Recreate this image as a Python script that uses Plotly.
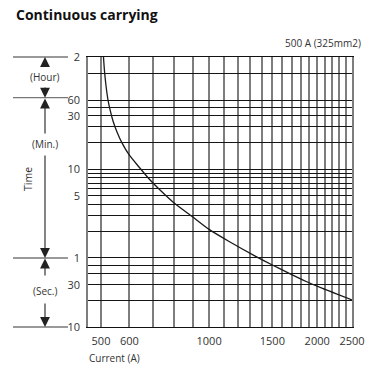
import math
import plotly.graph_objects as go

# ---- data ----
current_a = [508, 511, 516, 523, 530, 540, 554, 572, 599, 638, 681, 735, 799, 897,
             1000, 1137, 1344, 1500, 1671, 1864, 2070, 2500]
time_s = [11100, 7900, 5350, 3620, 2800, 2100, 1580, 1190, 870, 637, 466, 341, 250, 176,
          126, 92, 63, 50, 40.3, 32.6, 27.2, 20.2]

x_grid = list(range(500, 2501, 100))
x_labels = {500: "500", 600: "600", 1000: "1000", 1500: "1500", 2000: "2000", 2500: "2500"}

# time grid in seconds: 10..60 s, 1..10 min, 10..60 min, 2 h, top
y_grid = [10, 20, 30, 40, 50, 60, 120, 180, 240, 300, 360, 420, 480, 540, 600,
          1200, 1800, 2400, 3000, 3600, 7200, 11000]
y_labels = {10: "10", 30: "30", 60: "1", 300: "5", 600: "10", 2400: "30", 3600: "60", 11000: "2"}

x_min, x_max = 460, 2500
y_min, y_max = 10, 11070

W, H = 374, 377
ML, MR, MT, MB = 88, 22, 57, 50
PW, PH = W - ML - MR, H - MT - MB

def px_x(px):
    return (px - ML) / PW

def py_y(py):
    return (H - MB - py) / PH

fig = go.Figure()
fig.add_trace(go.Scatter(x=current_a, y=time_s, mode="lines",
                         line=dict(color="#1a1a1a", width=1.3, shape="spline", smoothing=0.6),
                         hoverinfo="skip", showlegend=False))

font = "Open Sans, DejaVu Sans, sans-serif"
txt = "#333333"

fig.update_xaxes(type="log", range=[math.log10(x_min), math.log10(x_max)],
                 tickvals=x_grid, ticktext=[x_labels.get(v, "") for v in x_grid],
                 showgrid=True, gridcolor="#7d7d7d", gridwidth=1.5,
                 showline=True, mirror=True, linecolor="#111111", linewidth=1.2,
                 ticks="", tickfont=dict(family=font, size=11, color=txt),
                 ticklabelstandoff=4, zeroline=False, automargin=False, tickangle=0)
fig.update_yaxes(type="log", range=[math.log10(y_min), math.log10(y_max)],
                 tickvals=y_grid, ticktext=[y_labels.get(v, "") for v in y_grid],
                 showgrid=True, gridcolor="#151515", gridwidth=1,
                 showline=True, mirror=True, linecolor="#7d7d7d", linewidth=1.5,
                 ticks="", tickfont=dict(family=font, size=11, color=txt),
                 ticklabelstandoff=4, zeroline=False, automargin=False)

shapes = []
for py in [57, 97.7, 258, 327]:
    shapes.append(dict(type="line", xref="paper", yref="paper",
                       x0=px_x(13), x1=px_x(68), y0=py_y(py), y1=py_y(py),
                       line=dict(color="#777777", width=1.3)))

ann = []
ann.append(dict(text="<b>Continuous carrying</b>", xref="paper", yref="paper",
                x=px_x(14), y=py_y(14), xanchor="left", yanchor="middle", showarrow=False,
                font=dict(family=font, size=14, color="#111111")))
ann.append(dict(text="500 A (325mm2)", xref="paper", yref="paper",
                x=px_x(363), y=py_y(43), xanchor="right", yanchor="middle", showarrow=False,
                font=dict(family=font, size=10, color=txt)))
ann.append(dict(text="Current (A)", xref="paper", yref="paper",
                x=px_x(87), y=py_y(358), xanchor="left", yanchor="middle", showarrow=False,
                font=dict(family=font, size=10, color=txt)))
ann.append(dict(text="Time", xref="paper", yref="paper", textangle=-90,
                x=px_x(28), y=py_y(179), xanchor="center", yanchor="middle", showarrow=False,
                font=dict(family=font, size=10.5, color=txt)))
for label, py in [("(Hour)", 77), ("(Min.)", 144), ("(Sec.)", 291)]:
    ann.append(dict(text=label, xref="paper", yref="paper",
                    x=px_x(45), y=py_y(py), xanchor="center", yanchor="middle", showarrow=False,
                    font=dict(family=font, size=10, color=txt)))

# arrows: (tip_py, tail_py)
for tip, tail in [(57, 67), (97.7, 86), (98.5, 135), (258, 154), (258.5, 277), (327, 302)]:
    ann.append(dict(text="", xref="paper", yref="paper", x=px_x(45), y=py_y(tip),
                    ax=0, ay=tail - tip, showarrow=True, arrowhead=2, arrowsize=1.8,
                    arrowwidth=1.1, arrowcolor="#222222", standoff=0))

fig.update_layout(width=W, height=H, margin=dict(l=ML, r=MR, t=MT, b=MB, autoexpand=False),
                  paper_bgcolor="white", plot_bgcolor="white",
                  shapes=shapes, annotations=ann, showlegend=False)

fig.write_html("out.html", config={"displayModeBar": False},
               post_script="document.body.style.margin='0';document.body.style.padding='0';"
                           "document.body.style.overflow='hidden';")
